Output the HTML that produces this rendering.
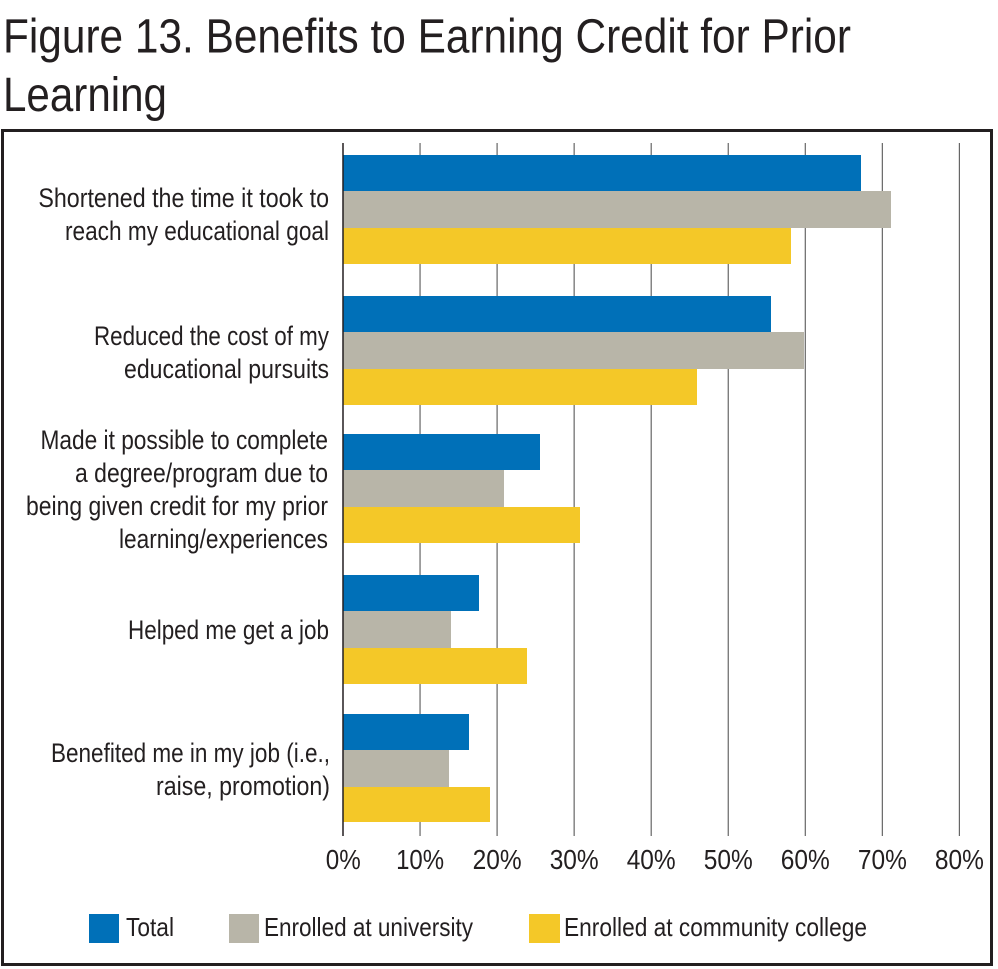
<!DOCTYPE html>
<html>
<head>
<meta charset="utf-8">
<style>
  html, body { margin: 0; padding: 0; background: #ffffff; }
  body { width: 998px; height: 969px; overflow: hidden; }
  svg { display: block; }
  text { font-family: "Liberation Sans", "DejaVu Sans", sans-serif; fill: #231f20; }
</style>
</head>
<body>
<svg width="998" height="969" viewBox="0 0 998 969" xmlns="http://www.w3.org/2000/svg">
  <rect x="0" y="0" width="998" height="969" fill="#ffffff"/>

  <!-- Title -->
  <text x="3" y="52.7" font-size="48" textLength="848" lengthAdjust="spacingAndGlyphs">Figure 13. Benefits to Earning Credit for Prior</text>
  <text x="3" y="111" font-size="48" textLength="164" lengthAdjust="spacingAndGlyphs">Learning</text>

  <!-- Frame -->
  <rect x="2.5" y="130.5" width="989" height="834" fill="none" stroke="#231f20" stroke-width="3"/>

  <!-- Gridlines -->
  <g stroke="#666666" stroke-width="1.2">
    <line x1="420.05" y1="143" x2="420.05" y2="836"/>
    <line x1="497.1" y1="143" x2="497.1" y2="836"/>
    <line x1="574.15" y1="143" x2="574.15" y2="836"/>
    <line x1="651.2" y1="143" x2="651.2" y2="836"/>
    <line x1="728.25" y1="143" x2="728.25" y2="836"/>
    <line x1="805.3" y1="143" x2="805.3" y2="836"/>
    <line x1="882.35" y1="143" x2="882.35" y2="836"/>
    <line x1="959.4" y1="143" x2="959.4" y2="836"/>
  </g>

  <!-- Bars -->
  <g>
    <!-- Group 1 -->
    <rect x="343" y="155" width="518" height="36" fill="#0070b8"/>
    <rect x="343" y="191" width="548" height="37" fill="#b8b5a8"/>
    <rect x="343" y="228" width="448" height="36" fill="#f4c828"/>
    <!-- Group 2 -->
    <rect x="343" y="296" width="428" height="36" fill="#0070b8"/>
    <rect x="343" y="332" width="461" height="37" fill="#b8b5a8"/>
    <rect x="343" y="369" width="354" height="36" fill="#f4c828"/>
    <!-- Group 3 -->
    <rect x="343" y="434" width="197" height="36" fill="#0070b8"/>
    <rect x="343" y="470" width="161" height="37" fill="#b8b5a8"/>
    <rect x="343" y="507" width="237" height="36" fill="#f4c828"/>
    <!-- Group 4 -->
    <rect x="343" y="575" width="136" height="36" fill="#0070b8"/>
    <rect x="343" y="611" width="108" height="37" fill="#b8b5a8"/>
    <rect x="343" y="648" width="184" height="36" fill="#f4c828"/>
    <!-- Group 5 -->
    <rect x="343" y="714" width="126" height="36" fill="#0070b8"/>
    <rect x="343" y="750" width="106" height="37" fill="#b8b5a8"/>
    <rect x="343" y="787" width="147" height="35" fill="#f4c828"/>
  </g>

  <!-- Axis line -->
  <line x1="343" y1="143" x2="343" y2="836" stroke="#231f20" stroke-width="1.5"/>

  <!-- Category labels -->
  <g font-size="27" text-anchor="end">
    <text x="329" y="207" textLength="290.6" lengthAdjust="spacingAndGlyphs">Shortened the time it took to</text>
    <text x="329" y="240" textLength="264" lengthAdjust="spacingAndGlyphs">reach my educational goal</text>

    <text x="329" y="345" textLength="235" lengthAdjust="spacingAndGlyphs">Reduced the cost of my</text>
    <text x="329" y="378" textLength="205" lengthAdjust="spacingAndGlyphs">educational pursuits</text>

    <text x="328" y="449" textLength="287.5" lengthAdjust="spacingAndGlyphs">Made it possible to complete</text>
    <text x="328" y="482" textLength="253" lengthAdjust="spacingAndGlyphs">a degree/program due to</text>
    <text x="328" y="515" textLength="302" lengthAdjust="spacingAndGlyphs">being given credit for my prior</text>
    <text x="328" y="548" textLength="209" lengthAdjust="spacingAndGlyphs">learning/experiences</text>

    <text x="329" y="639" textLength="201" lengthAdjust="spacingAndGlyphs">Helped me get a job</text>

    <text x="330" y="762" textLength="279" lengthAdjust="spacingAndGlyphs">Benefited me in my job (i.e.,</text>
    <text x="330" y="795" textLength="174" lengthAdjust="spacingAndGlyphs">raise, promotion)</text>
  </g>

  <!-- Tick labels -->
  <g font-size="28" text-anchor="middle">
    <text x="343.3" y="869" textLength="35" lengthAdjust="spacingAndGlyphs">0%</text>
    <text x="420.1" y="869" textLength="48" lengthAdjust="spacingAndGlyphs">10%</text>
    <text x="497.1" y="869" textLength="49" lengthAdjust="spacingAndGlyphs">20%</text>
    <text x="574.2" y="869" textLength="49" lengthAdjust="spacingAndGlyphs">30%</text>
    <text x="651.2" y="869" textLength="49" lengthAdjust="spacingAndGlyphs">40%</text>
    <text x="728.3" y="869" textLength="49" lengthAdjust="spacingAndGlyphs">50%</text>
    <text x="805.3" y="869" textLength="49" lengthAdjust="spacingAndGlyphs">60%</text>
    <text x="882.4" y="869" textLength="49" lengthAdjust="spacingAndGlyphs">70%</text>
    <text x="959.4" y="869" textLength="49" lengthAdjust="spacingAndGlyphs">80%</text>
  </g>

  <!-- Legend -->
  <rect x="89" y="914" width="30" height="29" fill="#0070b8"/>
  <text x="126" y="936" font-size="26" textLength="48" lengthAdjust="spacingAndGlyphs">Total</text>
  <rect x="229" y="914" width="30" height="29" fill="#b8b5a8"/>
  <text x="264" y="936" font-size="26" textLength="209" lengthAdjust="spacingAndGlyphs">Enrolled at university</text>
  <rect x="529" y="914" width="31" height="29" fill="#f4c828"/>
  <text x="564" y="936" font-size="26" textLength="303" lengthAdjust="spacingAndGlyphs">Enrolled at community college</text>
</svg>
</body>
</html>
